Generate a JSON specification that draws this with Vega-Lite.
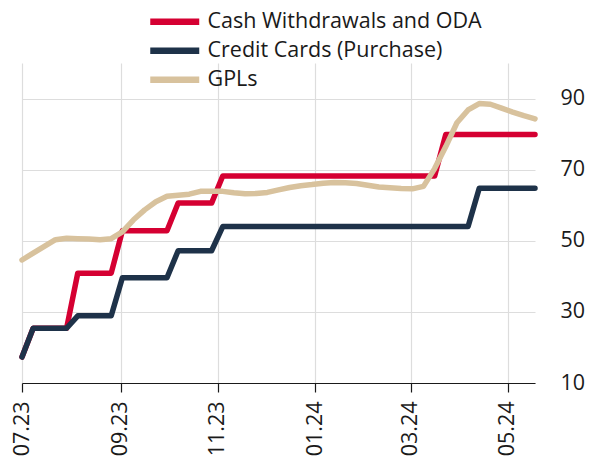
{
  "$schema": "https://vega.github.io/schema/vega-lite/v6.json",
  "width": 513,
  "height": 320,
  "autosize": {"type": "none"},
  "padding": {"left": 22, "top": 63, "right": 61, "bottom": 83},
  "background": "white",
  "config": {
    "font": "Open Sans",
    "view": {"stroke": null}
  },
  "data": {
    "values": [
      {"d": "2023-07-01", "Cash Withdrawals and ODA": 17.3, "Credit Cards (Purchase)": 17.3, "GPLs": 44.6},
      {"d": "2023-07-08", "Cash Withdrawals and ODA": 25.4, "Credit Cards (Purchase)": 25.4, "GPLs": 46.5},
      {"d": "2023-07-15", "Cash Withdrawals and ODA": 25.4, "Credit Cards (Purchase)": 25.4, "GPLs": 48.4},
      {"d": "2023-07-22", "Cash Withdrawals and ODA": 25.4, "Credit Cards (Purchase)": 25.4, "GPLs": 50.3},
      {"d": "2023-07-29", "Cash Withdrawals and ODA": 25.4, "Credit Cards (Purchase)": 25.4, "GPLs": 50.7},
      {"d": "2023-08-05", "Cash Withdrawals and ODA": 40.9, "Credit Cards (Purchase)": 28.9, "GPLs": 50.6},
      {"d": "2023-08-12", "Cash Withdrawals and ODA": 40.9, "Credit Cards (Purchase)": 28.9, "GPLs": 50.5},
      {"d": "2023-08-19", "Cash Withdrawals and ODA": 40.9, "Credit Cards (Purchase)": 28.9, "GPLs": 50.3},
      {"d": "2023-08-26", "Cash Withdrawals and ODA": 40.9, "Credit Cards (Purchase)": 28.9, "GPLs": 50.6},
      {"d": "2023-09-02", "Cash Withdrawals and ODA": 52.8, "Credit Cards (Purchase)": 39.6, "GPLs": 52.5},
      {"d": "2023-09-09", "Cash Withdrawals and ODA": 52.8, "Credit Cards (Purchase)": 39.6, "GPLs": 55.9},
      {"d": "2023-09-16", "Cash Withdrawals and ODA": 52.8, "Credit Cards (Purchase)": 39.6, "GPLs": 58.7},
      {"d": "2023-09-23", "Cash Withdrawals and ODA": 52.8, "Credit Cards (Purchase)": 39.6, "GPLs": 61.0},
      {"d": "2023-09-30", "Cash Withdrawals and ODA": 52.8, "Credit Cards (Purchase)": 39.6, "GPLs": 62.5},
      {"d": "2023-10-07", "Cash Withdrawals and ODA": 60.6, "Credit Cards (Purchase)": 47.2, "GPLs": 62.8},
      {"d": "2023-10-14", "Cash Withdrawals and ODA": 60.6, "Credit Cards (Purchase)": 47.2, "GPLs": 63.1},
      {"d": "2023-10-21", "Cash Withdrawals and ODA": 60.6, "Credit Cards (Purchase)": 47.2, "GPLs": 63.9},
      {"d": "2023-10-28", "Cash Withdrawals and ODA": 60.6, "Credit Cards (Purchase)": 47.2, "GPLs": 63.9},
      {"d": "2023-11-04", "Cash Withdrawals and ODA": 68.2, "Credit Cards (Purchase)": 54.0, "GPLs": 63.9},
      {"d": "2023-11-11", "Cash Withdrawals and ODA": 68.2, "Credit Cards (Purchase)": 54.0, "GPLs": 63.5},
      {"d": "2023-11-18", "Cash Withdrawals and ODA": 68.2, "Credit Cards (Purchase)": 54.0, "GPLs": 63.2},
      {"d": "2023-11-25", "Cash Withdrawals and ODA": 68.2, "Credit Cards (Purchase)": 54.0, "GPLs": 63.3},
      {"d": "2023-12-02", "Cash Withdrawals and ODA": 68.2, "Credit Cards (Purchase)": 54.0, "GPLs": 63.6},
      {"d": "2023-12-09", "Cash Withdrawals and ODA": 68.2, "Credit Cards (Purchase)": 54.0, "GPLs": 64.3},
      {"d": "2023-12-16", "Cash Withdrawals and ODA": 68.2, "Credit Cards (Purchase)": 54.0, "GPLs": 65.0},
      {"d": "2023-12-23", "Cash Withdrawals and ODA": 68.2, "Credit Cards (Purchase)": 54.0, "GPLs": 65.5},
      {"d": "2023-12-30", "Cash Withdrawals and ODA": 68.2, "Credit Cards (Purchase)": 54.0, "GPLs": 65.8},
      {"d": "2024-01-06", "Cash Withdrawals and ODA": 68.2, "Credit Cards (Purchase)": 54.0, "GPLs": 66.2},
      {"d": "2024-01-13", "Cash Withdrawals and ODA": 68.2, "Credit Cards (Purchase)": 54.0, "GPLs": 66.4},
      {"d": "2024-01-20", "Cash Withdrawals and ODA": 68.2, "Credit Cards (Purchase)": 54.0, "GPLs": 66.3},
      {"d": "2024-01-27", "Cash Withdrawals and ODA": 68.2, "Credit Cards (Purchase)": 54.0, "GPLs": 66.1},
      {"d": "2024-02-03", "Cash Withdrawals and ODA": 68.2, "Credit Cards (Purchase)": 54.0, "GPLs": 65.6},
      {"d": "2024-02-10", "Cash Withdrawals and ODA": 68.2, "Credit Cards (Purchase)": 54.0, "GPLs": 65.1},
      {"d": "2024-02-17", "Cash Withdrawals and ODA": 68.2, "Credit Cards (Purchase)": 54.0, "GPLs": 64.9},
      {"d": "2024-02-24", "Cash Withdrawals and ODA": 68.2, "Credit Cards (Purchase)": 54.0, "GPLs": 64.7},
      {"d": "2024-03-02", "Cash Withdrawals and ODA": 68.2, "Credit Cards (Purchase)": 54.0, "GPLs": 64.6},
      {"d": "2024-03-09", "Cash Withdrawals and ODA": 68.2, "Credit Cards (Purchase)": 54.0, "GPLs": 65.3},
      {"d": "2024-03-16", "Cash Withdrawals and ODA": 68.2, "Credit Cards (Purchase)": 54.0, "GPLs": 70.3},
      {"d": "2024-03-23", "Cash Withdrawals and ODA": 79.9, "Credit Cards (Purchase)": 54.0, "GPLs": 76.5},
      {"d": "2024-03-30", "Cash Withdrawals and ODA": 79.9, "Credit Cards (Purchase)": 54.0, "GPLs": 83.2},
      {"d": "2024-04-06", "Cash Withdrawals and ODA": 79.9, "Credit Cards (Purchase)": 54.0, "GPLs": 86.8},
      {"d": "2024-04-13", "Cash Withdrawals and ODA": 79.9, "Credit Cards (Purchase)": 64.8, "GPLs": 88.6},
      {"d": "2024-04-20", "Cash Withdrawals and ODA": 79.9, "Credit Cards (Purchase)": 64.8, "GPLs": 88.4},
      {"d": "2024-04-27", "Cash Withdrawals and ODA": 79.9, "Credit Cards (Purchase)": 64.8, "GPLs": 87.3},
      {"d": "2024-05-04", "Cash Withdrawals and ODA": 79.9, "Credit Cards (Purchase)": 64.8, "GPLs": 86.2},
      {"d": "2024-05-11", "Cash Withdrawals and ODA": 79.9, "Credit Cards (Purchase)": 64.8, "GPLs": 85.2},
      {"d": "2024-05-18", "Cash Withdrawals and ODA": 79.9, "Credit Cards (Purchase)": 64.8, "GPLs": 84.3}
    ]
  },
  "transform": [
    {"fold": ["Cash Withdrawals and ODA", "Credit Cards (Purchase)", "GPLs"], "as": ["series", "value"]}
  ],
  "mark": {"type": "line", "strokeWidth": 5.5, "strokeJoin": "round", "strokeCap": "round"},
  "encoding": {
    "x": {
      "field": "d",
      "type": "temporal",
      "scale": {"type": "utc", "nice": false},
      "axis": {
        "title": null,
        "format": "%m.%y",
        "values": [
          {"year": 2023, "month": 7, "date": 1, "utc": true},
          {"year": 2023, "month": 9, "date": 1, "utc": true},
          {"year": 2023, "month": 11, "date": 1, "utc": true},
          {"year": 2024, "month": 1, "date": 1, "utc": true},
          {"year": 2024, "month": 3, "date": 1, "utc": true},
          {"year": 2024, "month": 5, "date": 1, "utc": true}
        ],
        "labelAngle": -90,
        "labelAlign": "right",
        "labelBaseline": "middle",
        "labelFontSize": 21.5,
        "labelColor": "#1a1a1a",
        "labelPadding": 9,
        "tickSize": 9,
        "tickColor": "#1a1a1a",
        "domainColor": "#1a1a1a",
        "domainWidth": 1.2,
        "tickWidth": 1.2,
        "grid": true,
        "gridColor": "#dddddd",
        "gridWidth": 1.2,
        "labelFlush": false,
        "labelOverlap": false
      }
    },
    "y": {
      "field": "value",
      "type": "quantitative",
      "scale": {"domain": [10, 100], "nice": false, "zero": false},
      "axis": {
        "title": null,
        "orient": "right",
        "values": [10, 30, 50, 70, 90],
        "domain": false,
        "ticks": false,
        "labelPadding": 25,
        "labelFontSize": 21.5,
        "labelColor": "#1a1a1a",
        "labelAlign": "left",
        "grid": true,
        "gridColor": "#dddddd",
        "gridWidth": 1.2
      }
    },
    "color": {
      "field": "series",
      "type": "nominal",
      "scale": {
        "domain": ["Cash Withdrawals and ODA", "Credit Cards (Purchase)", "GPLs"],
        "range": ["#d50032", "#1e3249", "#d8c29d"]
      },
      "legend": {
        "title": null,
        "orient": "none",
        "legendX": 142,
        "legendY": -52,
        "symbolType": "M-4,0H4",
        "symbolSize": 150,
        "symbolStrokeWidth": 6.5,
        "labelFontSize": 21.5,
        "labelColor": "#1a1a1a",
        "labelOffset": 22,
        "rowPadding": 2,
        "labelLimit": 400
      }
    }
  }
}
